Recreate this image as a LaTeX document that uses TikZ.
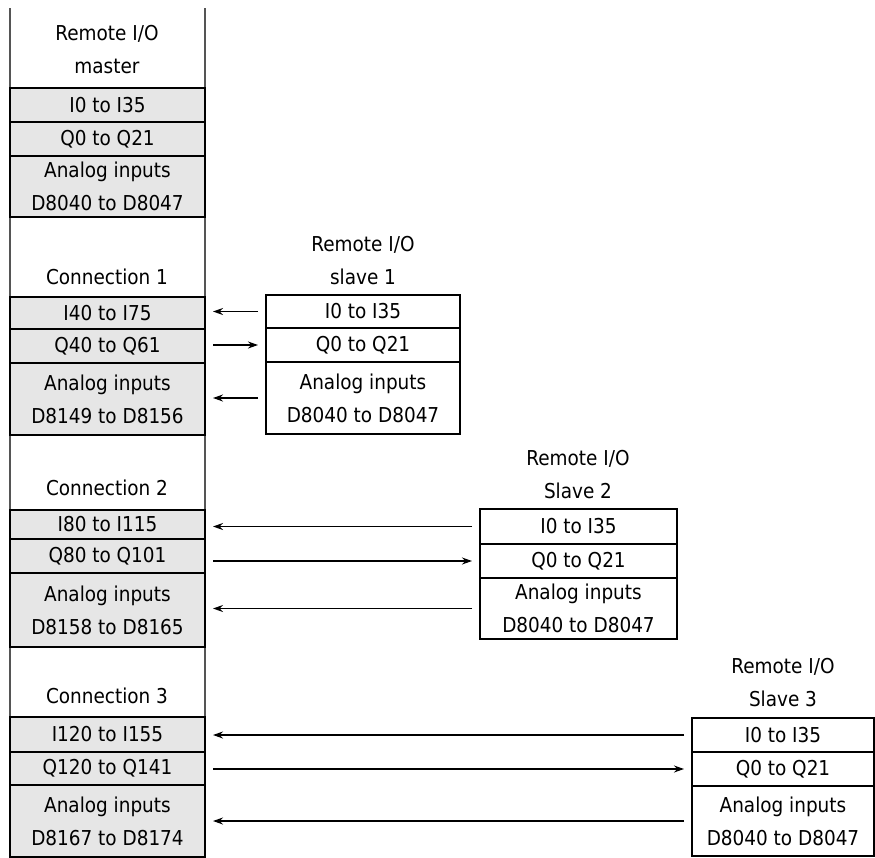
\documentclass[tikz,border=0pt]{standalone}
\usepackage{fontspec}
\setmainfont{DejaVu Sans Condensed}
\usetikzlibrary{positioning,arrows.meta}
\definecolor{boxgray}{HTML}{E6E6E6}
\definecolor{linegray}{HTML}{555555}

\begin{document}
\begin{tikzpicture}[x=1pt, y=-1pt, font=\fontsize{20.5}{33}\selectfont,
  cell/.style={draw, line width=1.2pt, inner sep=0pt, outer sep=0pt, align=center},
  mcell/.style={cell, fill=boxgray, minimum width=195pt},
  frame/.style={line width=2pt},
  colline/.style={linegray, line width=1.4pt},
  ttl/.style={align=center, inner sep=0pt},
  io/.style={-{Stealth[length=10pt,width=7pt]}, line width=1.2pt, shorten <=8pt, shorten >=8pt}]
\useasboundingbox (0,0) rectangle (875,857);
\draw[colline] (10,8) -- (10,857);
\draw[colline] (205,8) -- (205,857);
% master side
\node[ttl] (mtitle) at (107,50) {Remote I/O\\master};
\node[mcell, minimum height=34pt, anchor=north west] (m1) at (10,88) {I0 to I35};
\node[mcell, minimum height=34pt, below=0pt of m1] (m2) {Q0 to Q21};
\node[mcell, minimum height=61pt, below=0pt of m2] (m3) {Analog inputs\\D8040 to D8047};
\draw[frame] (m1.north west) rectangle (m3.south east);
\node[ttl] (c1title) at (107,277) {Connection 1};
\node[mcell, minimum height=32pt, anchor=north west] (c1a) at (10,297) {I40 to I75};
\node[mcell, minimum height=34pt, below=0pt of c1a] (c1b) {Q40 to Q61};
\node[mcell, minimum height=72pt, below=0pt of c1b] (c1c) {Analog inputs\\D8149 to D8156};
\draw[frame] (c1a.north west) rectangle (c1c.south east);
\node[ttl] (c2title) at (107,488) {Connection 2};
\node[mcell, minimum height=29pt, anchor=north west] (c2a) at (10,510) {I80 to I115};
\node[mcell, minimum height=34pt, below=0pt of c2a] (c2b) {Q80 to Q101};
\node[mcell, minimum height=74pt, below=0pt of c2b] (c2c) {Analog inputs\\D8158 to D8165};
\draw[frame] (c2a.north west) rectangle (c2c.south east);
\node[ttl] (c3title) at (107,696) {Connection 3};
\node[mcell, minimum height=35pt, anchor=north west] (c3a) at (10,717) {I120 to I155};
\node[mcell, minimum height=33pt, below=0pt of c3a] (c3b) {Q120 to Q141};
\node[mcell, minimum height=72pt, below=0pt of c3b] (c3c) {Analog inputs\\D8167 to D8174};
\draw[frame] (c3a.north west) rectangle (c3c.south east);
% slaves
\node[ttl] (s1title) at (363,261) {Remote I/O\\slave 1};
\node[cell, minimum width=194pt, minimum height=33pt, anchor=north west] (s1a) at (266,295) {I0 to I35};
\node[cell, minimum width=194pt, minimum height=34pt, below=0pt of s1a] (s1b) {Q0 to Q21};
\node[cell, minimum width=194pt, minimum height=72pt, below=0pt of s1b] (s1c) {Analog inputs\\D8040 to D8047};
\draw[frame] (s1a.north west) rectangle (s1c.south east);
\node[ttl] (s2title) at (578,475) {Remote I/O\\Slave 2};
\node[cell, minimum width=197pt, minimum height=35pt, anchor=north west] (s2a) at (480,509) {I0 to I35};
\node[cell, minimum width=197pt, minimum height=34pt, below=0pt of s2a] (s2b) {Q0 to Q21};
\node[cell, minimum width=197pt, minimum height=61pt, below=0pt of s2b] (s2c) {Analog inputs\\D8040 to D8047};
\draw[frame] (s2a.north west) rectangle (s2c.south east);
\node[ttl] (s3title) at (783,683) {Remote I/O\\Slave 3};
\node[cell, minimum width=182pt, minimum height=34pt, anchor=north west] (s3a) at (692,718) {I0 to I35};
\node[cell, minimum width=182pt, minimum height=34pt, below=0pt of s3a] (s3b) {Q0 to Q21};
\node[cell, minimum width=182pt, minimum height=70pt, below=0pt of s3b] (s3c) {Analog inputs\\D8040 to D8047};
\draw[frame] (s3a.north west) rectangle (s3c.south east);
% data flow
\draw[io] (s1a.west) -- (s1a.west -| c1a.east);
\draw[io] (s1b.west -| c1b.east) -- (s1b.west);
\draw[io] (s1c.west) -- (s1c.west -| c1c.east);
\draw[io] (s2a.west) -- (s2a.west -| c2a.east);
\draw[io] (s2b.west -| c2b.east) -- (s2b.west);
\draw[io] (s2c.west) -- (s2c.west -| c2c.east);
\draw[io] (s3a.west) -- (s3a.west -| c3a.east);
\draw[io] (s3b.west -| c3b.east) -- (s3b.west);
\draw[io] (s3c.west) -- (s3c.west -| c3c.east);
\end{tikzpicture}
\end{document}
